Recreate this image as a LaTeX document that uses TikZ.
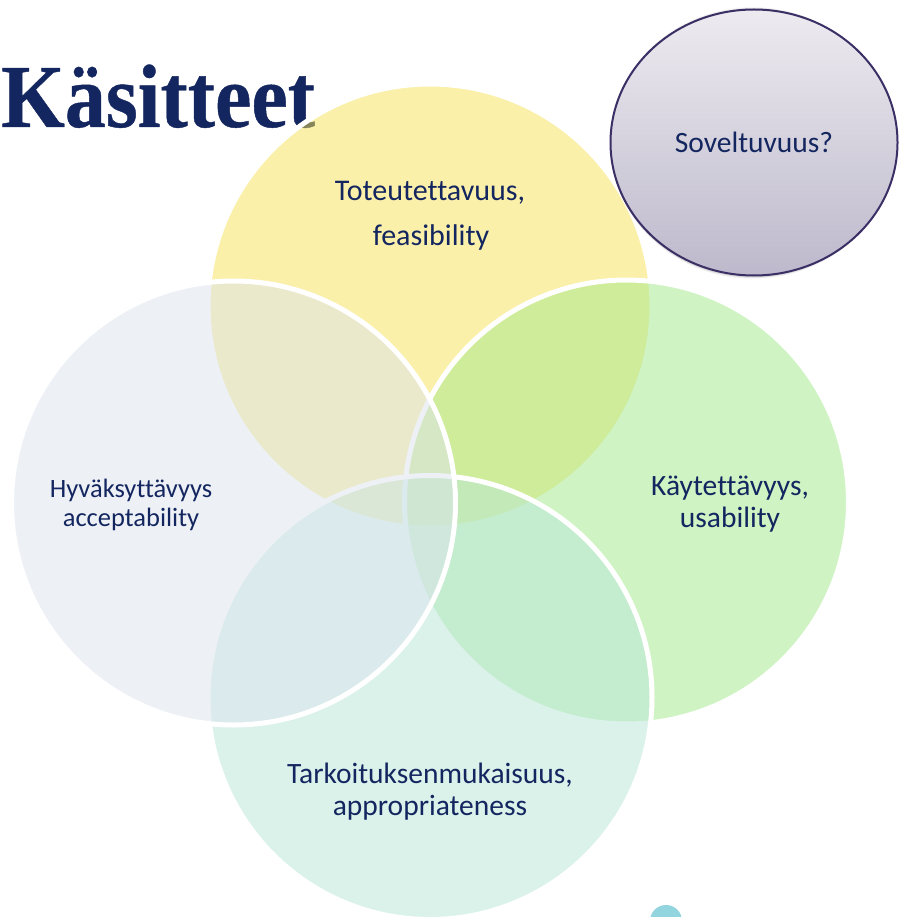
\documentclass[tikz,border=0pt]{standalone}
\usepackage{fontspec}
\usetikzlibrary{shapes.geometric}
\setmainfont[Ligatures=NoCommon,Contextuals=NoAlternate]{Carlito}
\newfontfamily\titlefont[FakeBold=0.5,FakeStretch=0.91]{Liberation Serif Bold}
\definecolor{ink}{HTML}{14265F}
\definecolor{cyellow}{HTML}{F7E356}
\definecolor{cgreen}{HTML}{A3E98B}
\definecolor{cmint}{HTML}{B9E7D9}
\definecolor{clav}{HTML}{DCE4EE}
\definecolor{ctop}{HTML}{EDEBF0}
\definecolor{cbot}{HTML}{BDB9CC}
\definecolor{cedge}{HTML}{3B2F66}
\definecolor{cblob}{HTML}{92D5DE}
\tikzset{
  venn/.style={draw=white,line width=5pt,fill opacity=0.5,draw opacity=1},
  lab/.style={text=ink,align=center,font=\fontsize{#1}{32}\selectfont,inner sep=0pt},
  x=1pt,y=-1pt
}
\begin{document}
\begin{tikzpicture}
\useasboundingbox (0,0) rectangle (898,917);
\fill[white] (0,0) rectangle (898,917);
\node[anchor=base west,text=ink,inner sep=0pt,font=\titlefont\fontsize{90}{90}\selectfont] (title) at (1,127) {Käsitteet};
\fill[cblob] (666,921) circle[radius=16];
\path[venn,fill=cyellow] (430,306) circle[radius=222];
\path[venn,fill=cgreen] (626.5,502) circle[radius=222];
\path[venn,fill=cmint] (430,697.5) circle[radius=222];
\path[venn,fill=clav] (233.5,503) circle[radius=222];
\foreach \o/\d in {0.02/6,0.03/5,0.03/4,0.04/3,0.05/2}
  \fill[black,opacity=\o] (753,143) ellipse[x radius=143,y radius=133+\d*0.5];
\node[ellipse,draw=cedge,line width=2pt,top color=ctop,bottom color=cbot,minimum width=287pt,minimum height=266pt,inner sep=0pt,text=ink,font=\fontsize{29.5}{32}\selectfont] (soveltuvuus) at (754,142.5) {Soveltuvuus?};
\node[lab=30] (top1) at (430,193) {Toteutettavuus,};
\node[lab=30] (top2) at (431,238) {feasibility};
\node[lab=29.5] (right) at (730,504) {Käytettävyys,\\usability};
\node[lab=26.5,font=\fontsize{26.5}{29}\selectfont] (left) at (131,505) {Hyväksyttävyys\\acceptability};
\node[lab=29.5] (bottom) at (430,792) {Tarkoituksenmukaisuus,\\appropriateness};
\end{tikzpicture}
\end{document}
